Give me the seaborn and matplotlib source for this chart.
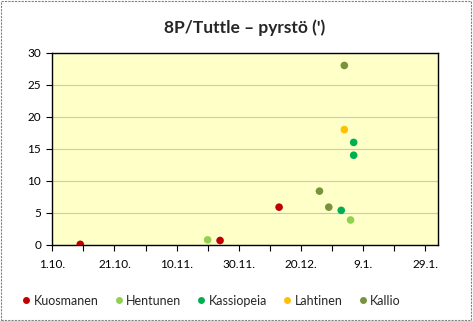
import matplotlib
matplotlib.use("Agg")
import matplotlib.pyplot as plt
import matplotlib.dates as mdates
from matplotlib.patches import Rectangle
from matplotlib.ticker import FuncFormatter
import seaborn as sns
import pandas as pd

observers = ["Kuosmanen", "Kuosmanen", "Kuosmanen",
             "Hentunen", "Hentunen",
             "Kassiopeia", "Kassiopeia", "Kassiopeia",
             "Lahtinen",
             "Kallio", "Kallio", "Kallio"]
dates = ["2007-10-10", "2007-11-24", "2007-12-13",
         "2007-11-20", "2008-01-05",
         "2008-01-06", "2008-01-06", "2008-01-02",
         "2008-01-03",
         "2008-01-03", "2007-12-26", "2007-12-29"]
tail = [0.1, 0.7, 5.9,
        0.8, 3.9,
        16, 14, 5.4,
        18,
        28, 8.4, 5.9]
order = ["Kuosmanen", "Hentunen", "Kassiopeia", "Lahtinen", "Kallio"]
colors = ["#C00000", "#92D050", "#00B050", "#FFC000", "#77933C"]
x_ticks = ["2007-10-01", "2007-10-21", "2007-11-10", "2007-11-30",
           "2007-12-20", "2008-01-09", "2008-01-29"]

df = pd.DataFrame({"observer": observers, "date": pd.to_datetime(dates), "tail": tail})

sns.set_style("white")
plt.rcParams["font.family"] = ["Lato", "DejaVu Sans"]

fig = plt.figure(figsize=(4.73, 3.21), dpi=100)
ax = fig.add_axes([0.1106, 0.2368, 0.8144, 0.5992])
ax.set_facecolor("#FFFFC8")

sns.scatterplot(data=df, x="date", y="tail", hue="observer", hue_order=order,
                palette=colors, s=30, edgecolor="none", ax=ax, zorder=3)

ax.set_xlim(pd.Timestamp("2007-10-01"), pd.Timestamp("2008-02-02"))
ax.set_ylim(0, 30)
ax.set_yticks(range(0, 31, 5))
ax.set_xticks(pd.to_datetime(x_ticks))
ax.set_xticks(pd.date_range("2007-10-11", "2008-01-19", freq="20D"), minor=True)
ax.xaxis.set_major_formatter(FuncFormatter(lambda v, p: f"{mdates.num2date(v).day}.{mdates.num2date(v).month}."))
ax.yaxis.grid(True, color="#C8C8C8", linewidth=0.8, zorder=0)
ax.set_axisbelow(True)
ax.set_xlabel("")
ax.set_ylabel("")
for s in ax.spines.values():
    s.set_color("#000000")
    s.set_linewidth(1.0)
ax.tick_params(axis="both", which="both", direction="out", length=4, width=0.8,
               colors="#000000", labelsize=8.5, labelcolor="#000000")
ax.tick_params(axis="y", left=True, pad=4)
ax.tick_params(axis="x", bottom=True, pad=6)
ax.tick_params(axis="x", which="minor", bottom=True, length=4)

ax.set_title("8P/Tuttle \u2013 pyrstö (')", fontsize=12.5, fontweight="bold", pad=14)

ax.legend_.remove()
handles = [plt.Line2D([], [], marker="o", linestyle="", markersize=5,
                      markerfacecolor=c, markeredgecolor="none") for c in colors]
fig.legend(handles, order, loc="center", bbox_to_anchor=(0.445, 0.063), ncol=5,
           frameon=False, fontsize=9, handletextpad=0.1, columnspacing=1.1,
           handlelength=1.0)

fig.patches.append(Rectangle((0.002, 0.003), 0.994, 0.993, transform=fig.transFigure,
                             fill=False, edgecolor="#808080", linestyle=(0, (2, 1)),
                             linewidth=0.8))

fig.savefig("out.png", dpi=100)
